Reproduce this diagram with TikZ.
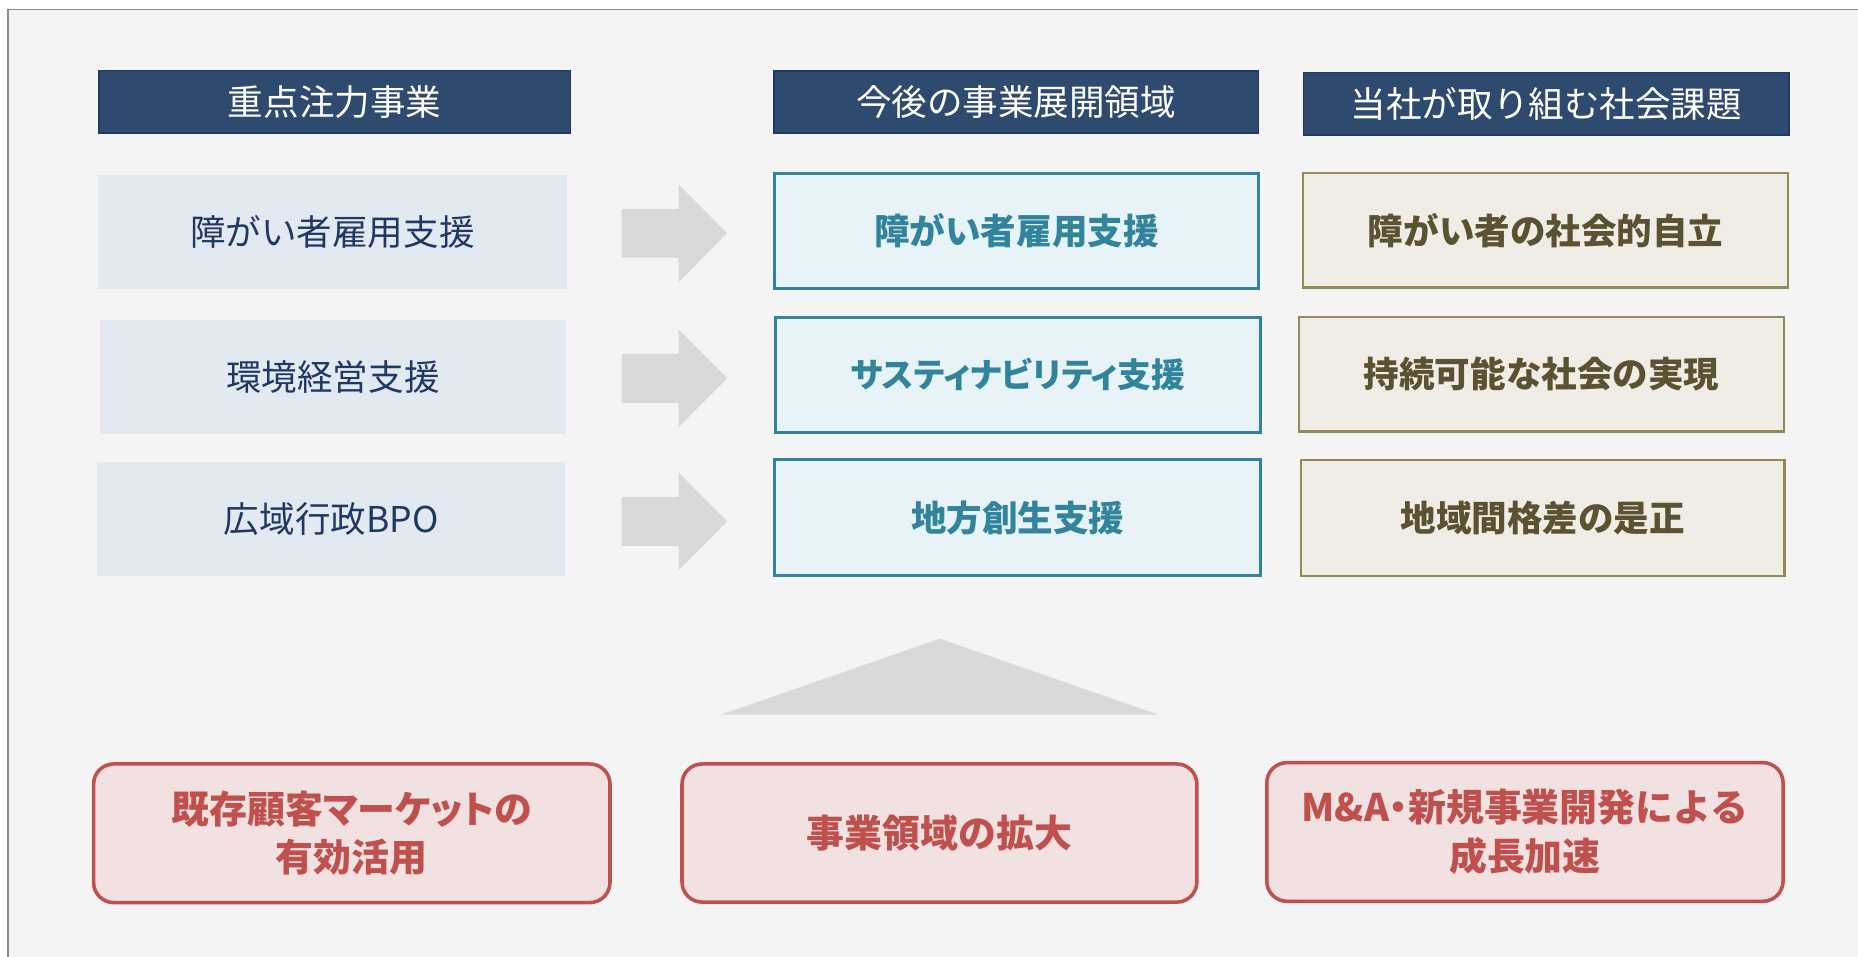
\documentclass[tikz,border=0pt]{standalone}
\usepackage{fontspec}
\setmainfont{Noto Sans CJK JP}
\newfontfamily\paltfont{Noto Sans CJK JP}[RawFeature=+palt]
\definecolor{bgc}{HTML}{F4F4F4}
\definecolor{framec}{HTML}{8A8A8A}
\definecolor{hdfill}{HTML}{2E4A6E}
\definecolor{hddraw}{HTML}{1F3A60}
\definecolor{lfill}{HTML}{E3E9F1}
\definecolor{ltext}{HTML}{1F3864}
\definecolor{mdraw}{HTML}{31849B}
\definecolor{mfill}{HTML}{E8F3F8}
\definecolor{mtext}{HTML}{31849B}
\definecolor{rdraw}{HTML}{948A54}
\definecolor{rfill}{HTML}{F0EDE6}
\definecolor{rtext}{HTML}{5A5230}
\definecolor{bdraw}{HTML}{C0504D}
\definecolor{bfill}{HTML}{F2E1E1}
\definecolor{arrc}{HTML}{D9D9D9}
\tikzset{
  hdbox/.style={draw=hddraw, fill=hdfill, line width=1.5pt, text=white, inner sep=0pt, font=\fontsize{30pt}{36pt}\selectfont},
  lbox/.style={fill=lfill, text=ltext, inner sep=0pt, font=\fontsize{30pt}{36pt}\selectfont},
  mbox/.style={draw=mdraw, fill=mfill, line width=2.5pt, text=mtext, inner sep=0pt, font=\bfseries\fontsize{30pt}{36pt}\selectfont},
  rbox/.style={draw=rdraw, fill=rfill, line width=2pt, text=rtext, inner sep=0pt, font=\bfseries\fontsize{30pt}{36pt}\selectfont},
  bbox/.style={draw=bdraw, fill=bfill, line width=3pt, rounded corners=17pt, text=bdraw, inner sep=0pt, align=center, font=\bfseries\fontsize{32pt}{41pt}\selectfont},
  arrshape/.style={fill=arrc, draw=none}
}
\begin{document}
\begin{tikzpicture}[x=1pt, y=-1pt]
\useasboundingbox (0,0) rectangle (1568,807);
\clip (0,0) rectangle (1568,807);
\fill[white] (0,0) rectangle (1568,807);
\draw[framec, fill=bgc, line width=1.6pt] (7,8) rectangle (1590,830);

% headers
\node[hdbox, minimum width=398pt, minimum height=53pt] (h1) at (282.4,86) {重点注力事業};
\node[hdbox, minimum width=409pt, minimum height=52pt] (h2) at (857.5,86) {今後の事業展開領域};
\node[hdbox, minimum width=410pt, minimum height=52.7pt] (h3) at (1305,87.6) {当社が取り組む社会課題};

% left boxes
\node[lbox, minimum width=395.6pt, minimum height=96pt] (l1) at (280.5,195.6) {障がい者雇用支援};
\node[lbox, minimum width=394pt, minimum height=96pt] (l2) at (281,318) {環境経営支援};
\node[lbox, minimum width=395pt, minimum height=96pt] (l3) at (279.5,438) {広域行政BPO};

% middle boxes
\node[mbox, minimum width=409pt, minimum height=97pt] (m1) at (857.8,194.8) {障がい者雇用支援};
\node[mbox, minimum width=409pt, minimum height=97pt] (m2) at (859.1,316.3) {\paltfont\fontsize{28.5pt}{34pt}\selectfont サスティナビリティ支援};
\node[mbox, minimum width=410pt, minimum height=98pt] (m3) at (859,437) {地方創生支援};

% right boxes
\node[rbox, minimum width=409.3pt, minimum height=96.5pt] (r1) at (1304.4,194.5) {障がい者の社会的自立};
\node[rbox, minimum width=409pt, minimum height=96.7pt] (r2) at (1301,315.7) {持続可能な社会の実現};
\node[rbox, minimum width=408pt, minimum height=98pt] (r3) at (1302,437) {地域間格差の是正};

% block arrows
\foreach \c in {196.8,319.3,440}{
  \fill[arrshape] (524.5,\c-20.6) -- (572.7,\c-20.6) -- (572.7,\c-41.2) -- (613.6,\c) -- (572.7,\c+41.2) -- (572.7,\c+20.6) -- (524.5,\c+20.6) -- cycle;
}

% triangle
\fill[arrshape] (608.5,603.1) -- (793,539) -- (977.4,603.1) -- cycle;

% bottom boxes
\node[bbox, minimum width=435.8pt, minimum height=117pt] (b1) at (296.9,703.2) {{\paltfont 既存顧客マーケットの}\\有効活用};
\node[bbox, minimum width=434.5pt, minimum height=116.6pt] (b2) at (792.8,703) {事業領域の拡大};
\node[bbox, minimum width=435.7pt, minimum height=117pt] (b3) at (1286.9,702.1) {M\&A{\paltfont ・}新規事業開発による\\成長加速};
\end{tikzpicture}
\end{document}
